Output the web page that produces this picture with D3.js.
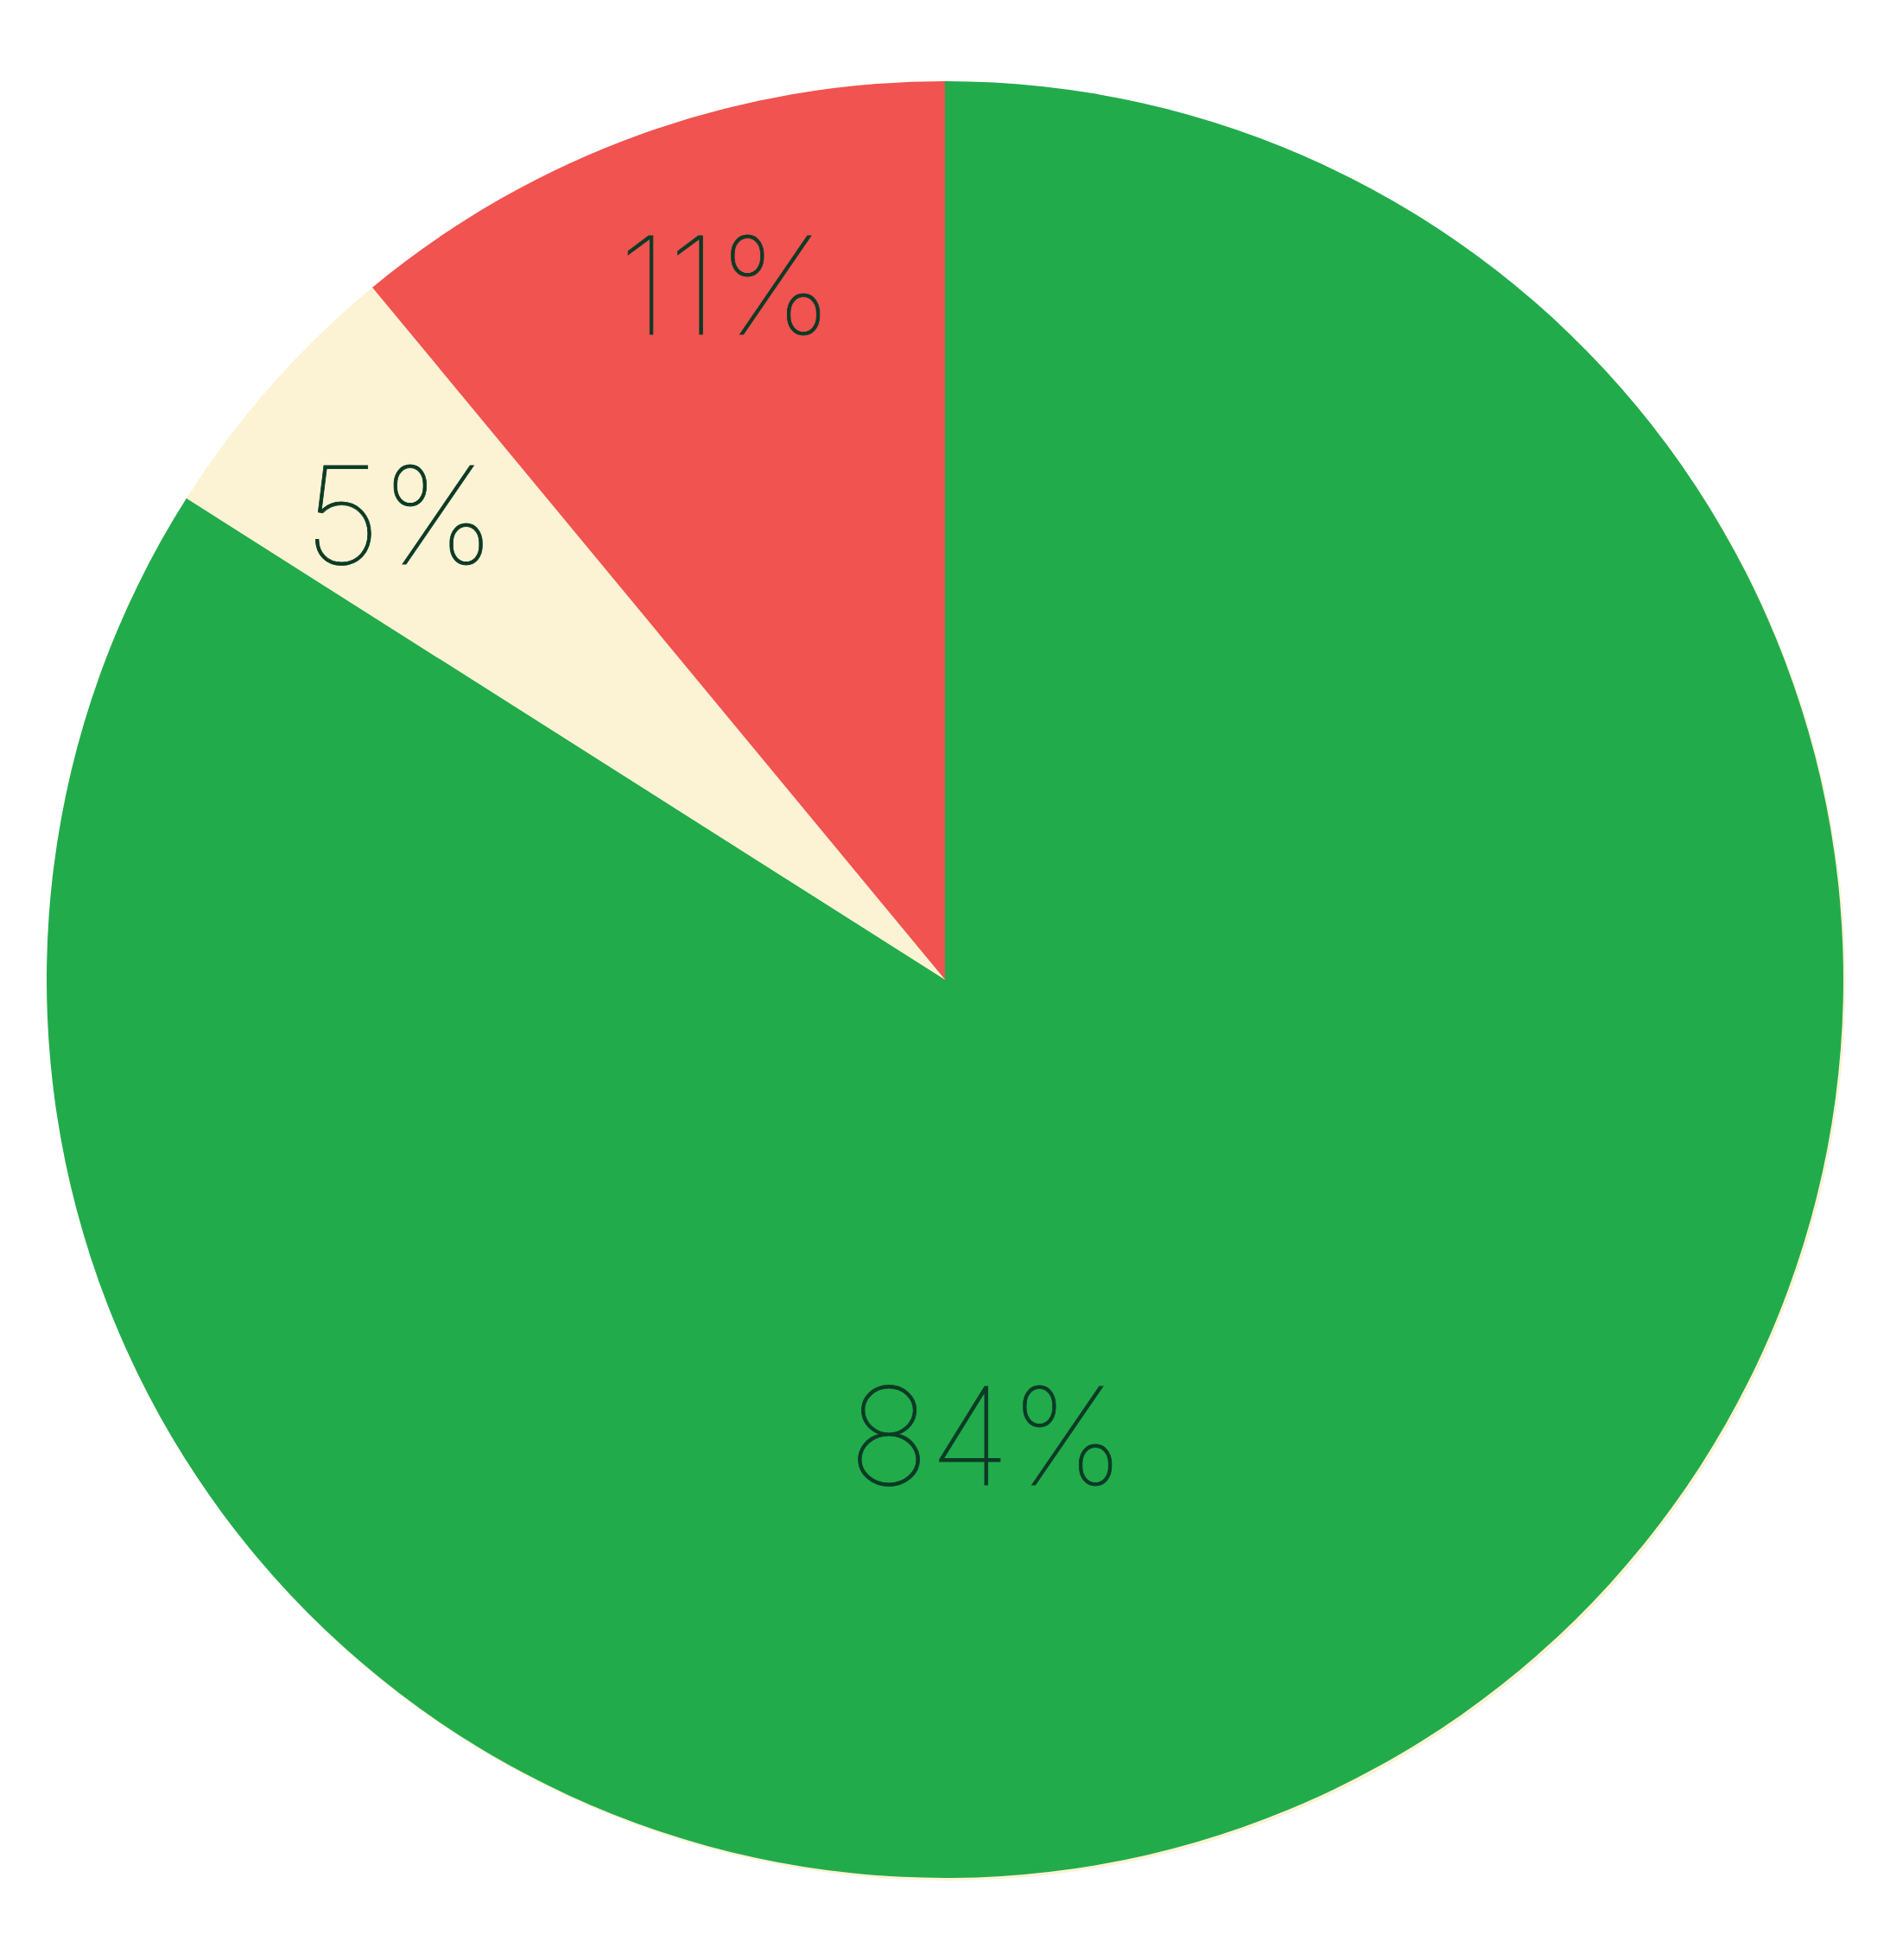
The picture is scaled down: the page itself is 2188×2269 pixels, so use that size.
<!DOCTYPE html>
<html>
<head>
<meta charset="utf-8">
<script src="https://cdn.jsdelivr.net/npm/d3@7"></script>
<style>
  html, body { margin: 0; padding: 0; background: #ffffff; }
  svg { display: block; }
</style>
</head>
<body>
<svg id="chart" width="2188" height="2269"></svg>
<script>
// ---- data ----
const categories = ["A", "B", "C"];
const values = [84, 5, 11];
const labels = ["84%", "5%", "11%"];
const colors = ["#22ab4b", "#fcf3d4", "#f05350"];

// ---- layout ----
const cx = 1094, cy = 1134, R = 1040;
const labelColor = "#0c3a25";
const fontSize = 157;
// label placement inside each slice: [fraction along the slice's angle span, fraction of radius]
const labelPlacement = [[0.578, 0.51], [0.445, 0.797], [0.557, 0.81]];

const svg = d3.select("#chart");
const g = svg.append("g").attr("transform", `translate(${cx},${cy})`);

// subtle cream rim (offset backdrop)
g.append("circle")
  .attr("cx", 2.5).attr("cy", 3).attr("r", R)
  .attr("fill", colors[1]);

const pie = d3.pie().sort(null).value(d => d.v);
const arcs = pie(categories.map((c, i) => ({ c, i, v: values[i], label: labels[i], color: colors[i] })));

const arc = d3.arc().innerRadius(0).outerRadius(R);

g.selectAll("path.slice")
  .data(arcs)
  .enter().append("path")
  .attr("class", "slice")
  .attr("d", arc)
  .attr("fill", d => d.data.color);

function labelPos(d) {
  const [fa, fr] = labelPlacement[d.data.i];
  const a = d.startAngle + (d.endAngle - d.startAngle) * fa;
  const r = R * fr;
  return [r * Math.sin(a), -r * Math.cos(a)];
}

g.selectAll("text.lbl")
  .data(arcs)
  .enter().append("text")
  .attr("class", "lbl")
  .attr("x", d => labelPos(d)[0])
  .attr("y", d => labelPos(d)[1])
  .attr("dy", "0.36em")
  .attr("text-anchor", "middle")
  .attr("font-family", "Inter, Roboto, 'Noto Sans', sans-serif")
  .attr("font-weight", 100)
  .attr("font-size", fontSize)
  .attr("fill", labelColor)
  .attr("stroke", labelColor)
  .attr("stroke-width", 0.8)
  .text(d => d.data.label);
</script>
</body>
</html>
